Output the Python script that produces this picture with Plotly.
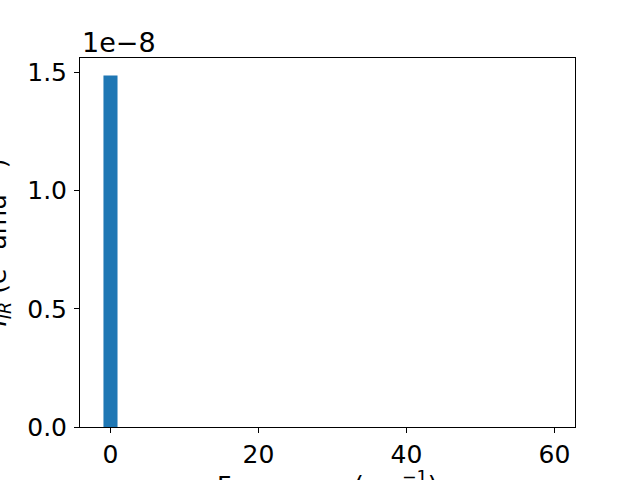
import plotly.graph_objects as go

freq = [0.0]
intensity = [1.487e-8]
xticks = [0, 20, 40, 60]
yticks = [0.0, 0.5e-8, 1.0e-8, 1.5e-8]
ytick_labels = ["0.0", "0.5", "1.0", "1.5"]

FONT = "DejaVu Sans"
FS = 25

fig = go.Figure()
fig.add_trace(go.Bar(x=freq, y=intensity, width=1.9, marker=dict(color="#1f77b4", line=dict(width=0))))

fig.update_layout(
    width=640, height=480,
    margin=dict(l=80, r=65, t=58, b=53, autoexpand=False),
    paper_bgcolor="white", plot_bgcolor="white",
    font=dict(family=FONT, size=FS, color="black"),
    showlegend=False,
    xaxis=dict(range=[-4.12, 62.77], tickvals=xticks, ticks="outside", ticklen=5, tickwidth=1,
               tickcolor="black", showline=True, linecolor="black", linewidth=1, mirror=True,
               showgrid=False, zeroline=False, tickfont=dict(size=FS), automargin=False),
    yaxis=dict(range=[0, 1.561e-8], tickvals=yticks, ticktext=ytick_labels, ticks="outside",
               ticklen=5, tickwidth=1, tickcolor="black", showline=True, linecolor="black",
               linewidth=1, mirror=True, showgrid=False, zeroline=False, tickfont=dict(size=FS),
               automargin=False, ticklabelstandoff=2),
    annotations=[
        dict(text="1e\u22128", xref="paper", yref="paper", x=0, y=1, xanchor="left", yanchor="bottom",
             showarrow=False, font=dict(size=27), yshift=-2),
        dict(text="Frequency (cm<sup>\u22121</sup>)", xref="paper", yref="paper", x=0.5, y=0,
             xanchor="center", yanchor="top", showarrow=False, font=dict(size=FS), yshift=-38),
        dict(text="<i>I</i><sub><i>IR</i></sub> (e<sup>2</sup> amu<sup>\u22121</sup>)", xref="paper", yref="paper",
             x=0, y=0.5, xanchor="center", yanchor="middle", textangle=-90, showarrow=False,
             font=dict(size=FS), xshift=-83),
    ],
)

fig.write_html("out.html", config={"displayModeBar": False},
               post_script="document.body.style.margin='0px';document.body.style.overflow='hidden';")
